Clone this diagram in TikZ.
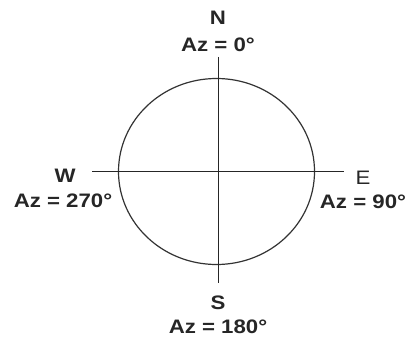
\documentclass[tikz,border=0pt]{standalone}
\usepackage{fontspec}
\setmainfont{Liberation Sans}
\newfontfamily\labb[FakeStretch=1.14]{Liberation Sans Bold}
\newfontfamily\labr[FakeStretch=1.14]{Liberation Sans}
\begin{document}
\begin{tikzpicture}[x=1pt,y=-1pt,
  lbl/.style={anchor=base,inner sep=0pt,font=\labb\fontsize{19.5}{21}\selectfont,text=black!85},
  lblr/.style={anchor=base,inner sep=0pt,font=\labr\fontsize{19.5}{21}\selectfont,text=black!85},
  axis/.style={line width=1.3pt,draw=black!85},
  ring/.style={line width=1.2pt,draw=black!80}]
\useasboundingbox (0,0) rectangle (411,339);
\coordinate (c) at (216.5,171.5);
\coordinate (nEnd) at (218.5,57);
\coordinate (sEnd) at (218.5,283);
\coordinate (wEnd) at (92,171.5);
\coordinate (eEnd) at (344,171.5);
\draw[ring] (c) ellipse [x radius=98, y radius=93];
\draw[axis] (nEnd) -- (sEnd);
\draw[axis] (wEnd) -- (eEnd);
\node[lbl] (nN) at (218,25) {N};
\node[lbl] (nNaz) at (218,51.5) {Az = 0°};
\node[lbl] (nW) at (65,182) {W};
\node[lbl] (nWaz) at (63,207) {Az = 270°};
\node[lblr] (nE) at (363,184) {E};
\node[lbl] (nEaz) at (363,208) {Az = 90°};
\node[lbl] (nS) at (218,309) {S};
\node[lbl] (nSaz) at (218,333) {Az = 180°};
\end{tikzpicture}
\end{document}
